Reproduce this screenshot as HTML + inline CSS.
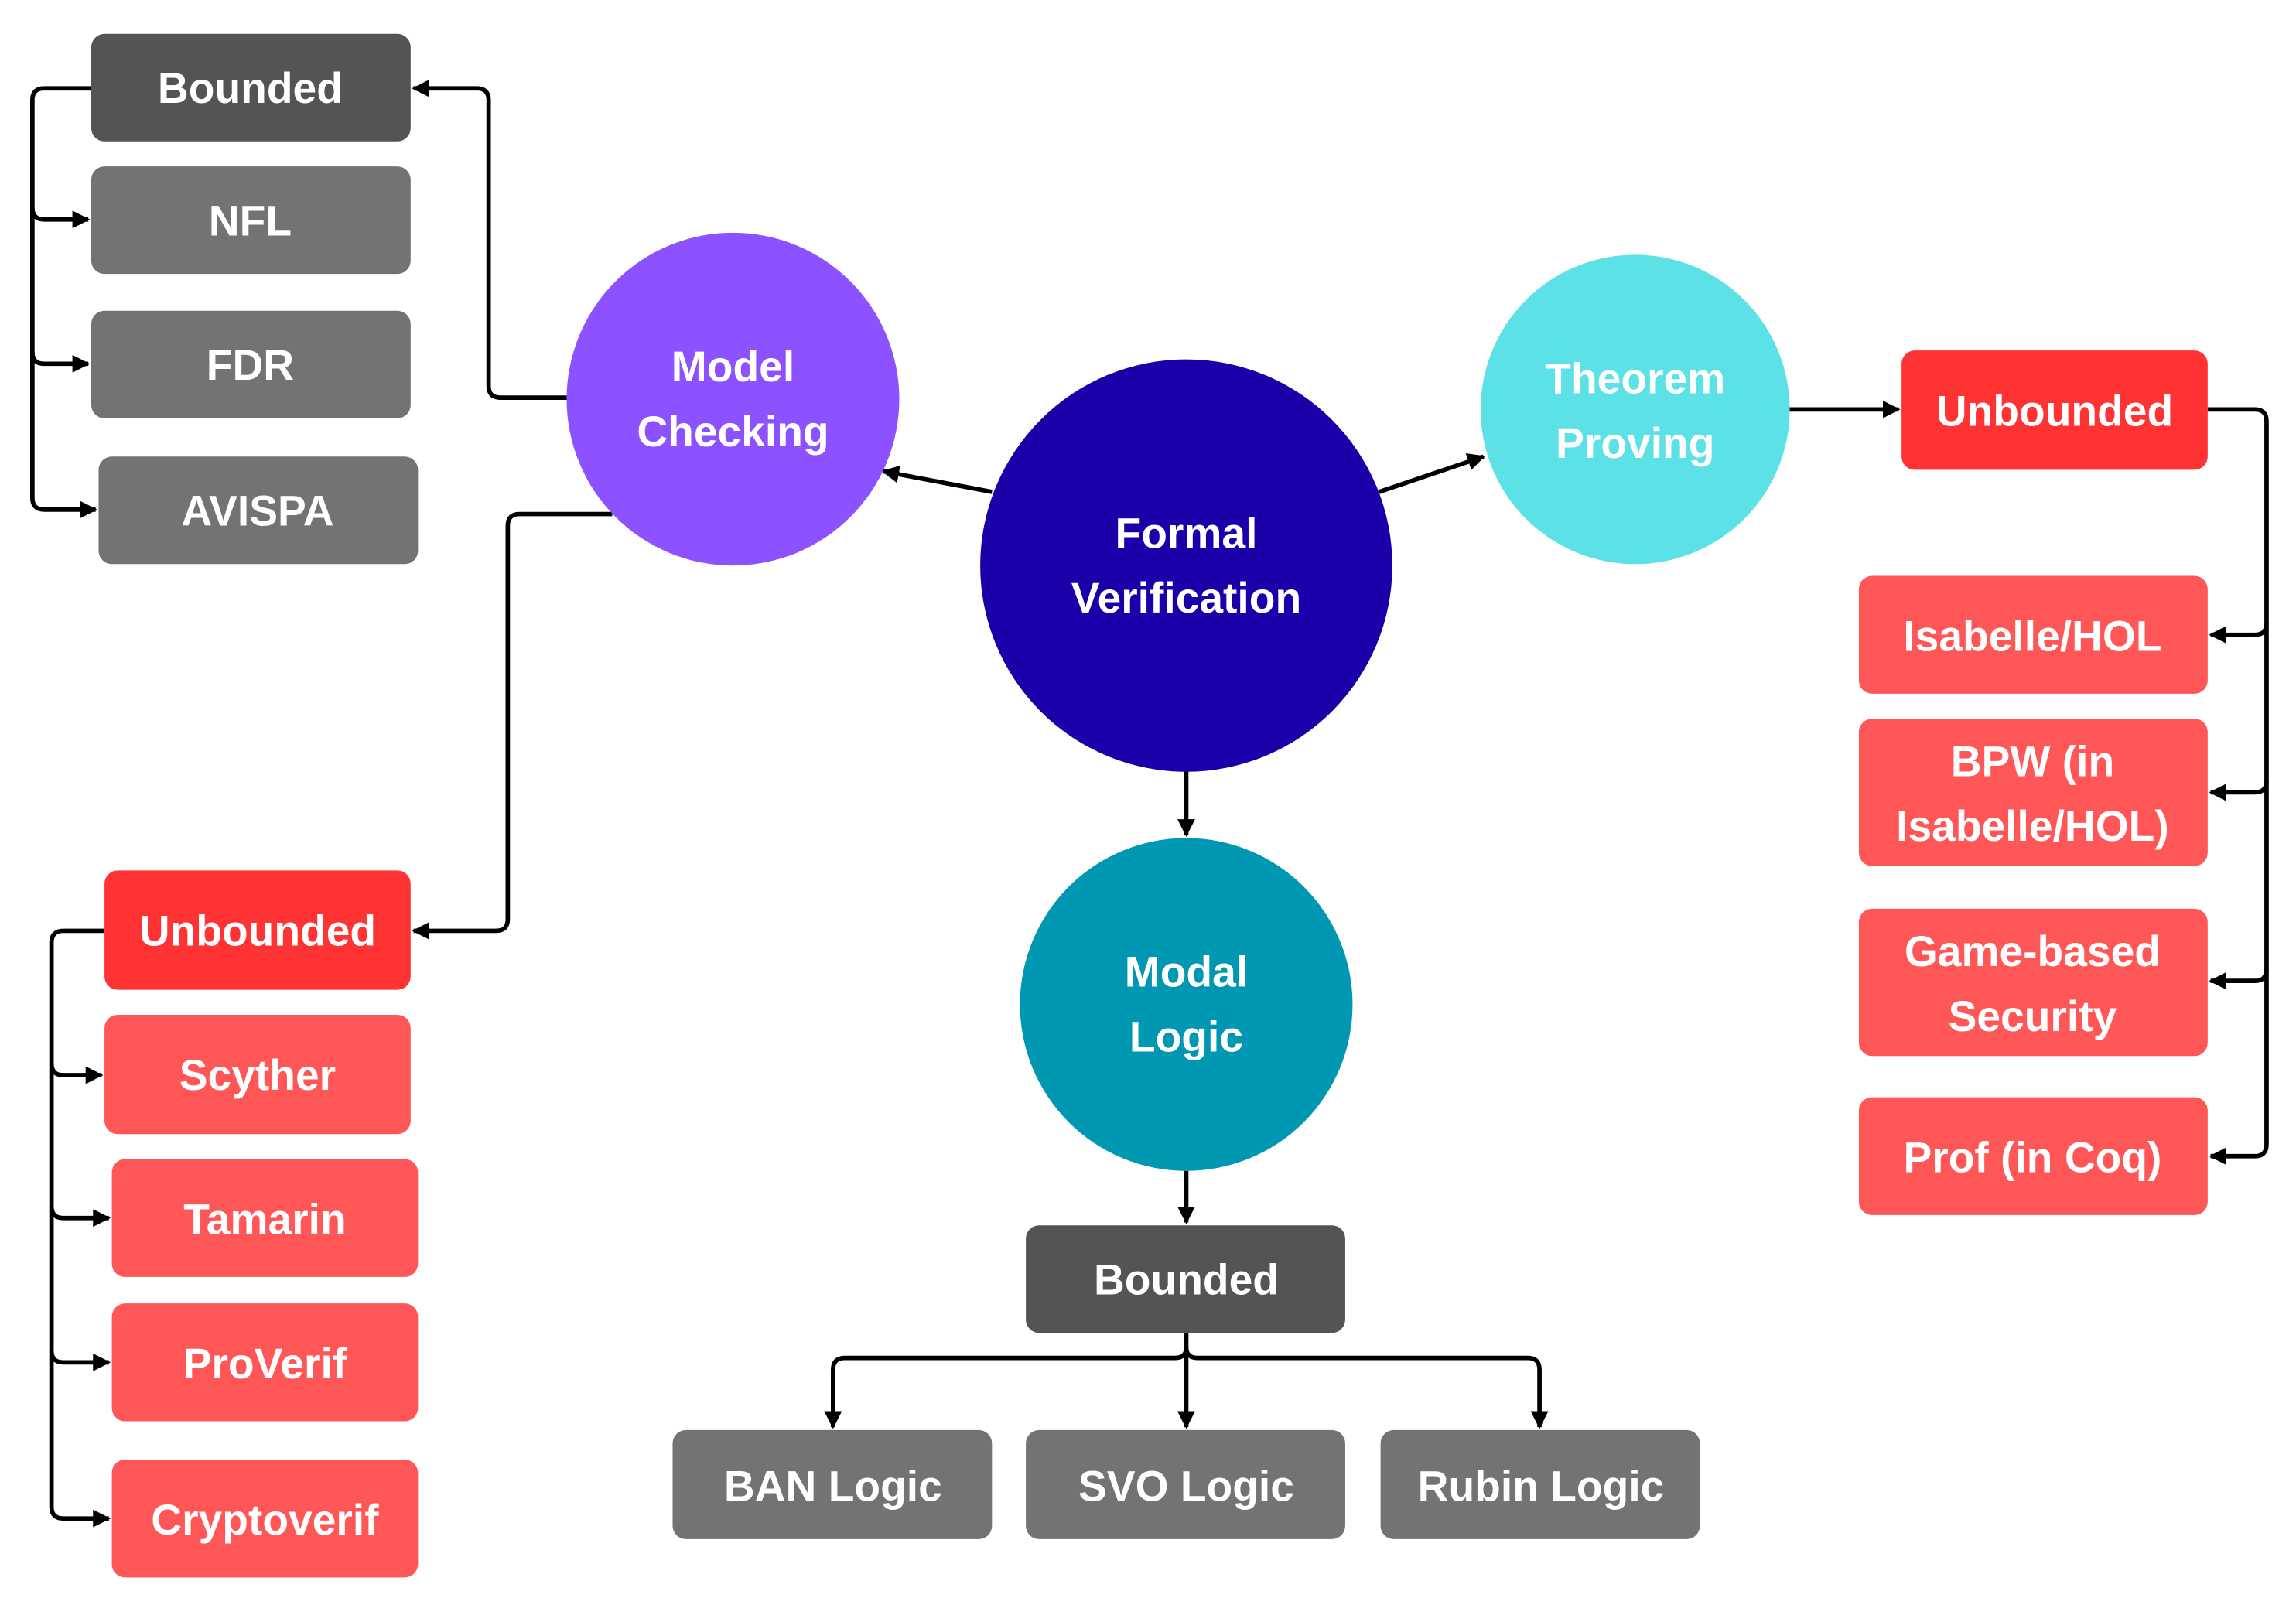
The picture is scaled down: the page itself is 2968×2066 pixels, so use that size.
<!DOCTYPE html>
<html><head><meta charset="utf-8"><style>
html,body{margin:0;padding:0;background:#fff;}
svg{display:block;}
text{font-family:"Liberation Sans",sans-serif;font-weight:bold;fill:#fff;font-size:29px;text-anchor:middle;dominant-baseline:central;}
</style></head><body>
<svg width="2968" height="2066" viewBox="0 0 1560 1085" preserveAspectRatio="none" xmlns="http://www.w3.org/2000/svg">
<defs>
<marker id="a" viewBox="0 0 10 10" refX="9" refY="5" markerWidth="4" markerHeight="4" orient="auto"><path d="M0,0 L10,5 L0,10 z" fill="#000"/></marker>
</defs>
<g fill="none" stroke="#000" stroke-width="3">
<!-- left top -->
<path d="M62,60 H30 Q22,60 22,68 V338 Q22,346 30,346 H65" marker-end="url(#a)"/>
<path d="M22,141 Q22,149 30,149 H60" marker-end="url(#a)"/>
<path d="M22,239 Q22,247 30,247 H60" marker-end="url(#a)"/>
<path d="M385,270 H340 Q332,270 332,262 V68 Q332,60 324,60 H281" marker-end="url(#a)"/>
<path d="M416,349 H353 Q345,349 345,357 V624 Q345,632 337,632 H281" marker-end="url(#a)"/>
<!-- left bottom -->
<path d="M71,632 H43 Q35,632 35,640 V1023 Q35,1031 43,1031 H74" marker-end="url(#a)"/>
<path d="M35,722 Q35,730 43,730 H69" marker-end="url(#a)"/>
<path d="M35,819 Q35,827 43,827 H74" marker-end="url(#a)"/>
<path d="M35,917 Q35,925 43,925 H74" marker-end="url(#a)"/>
<!-- center -->
<path d="M674,334 L600,320" marker-end="url(#a)"/>
<path d="M937,334 L1008,310" marker-end="url(#a)"/>
<path d="M1216,278 H1290" marker-end="url(#a)"/>
<path d="M806,523 V567" marker-end="url(#a)"/>
<path d="M806,795 V830" marker-end="url(#a)"/>
<path d="M806,905 V969" marker-end="url(#a)"/>
<path d="M806,915 Q806,922 798,922 H574 Q566,922 566,930 V969" marker-end="url(#a)"/>
<path d="M806,915 Q806,922 814,922 H1038 Q1046,922 1046,930 V969" marker-end="url(#a)"/>
<!-- right -->
<path d="M1500,278 H1532 Q1540,278 1540,286 V777 Q1540,785 1532,785 H1502" marker-end="url(#a)"/>
<path d="M1540,423 Q1540,431 1532,431 H1502" marker-end="url(#a)"/>
<path d="M1540,530 Q1540,538 1532,538 H1502" marker-end="url(#a)"/>
<path d="M1540,658 Q1540,666 1532,666 H1502" marker-end="url(#a)"/>
</g>
<!-- boxes -->
<rect x="62" y="23" width="217" height="73" rx="9" fill="#545454"/><text x="170" y="60">Bounded</text>
<rect x="62" y="113" width="217" height="73" rx="9" fill="#737373"/><text x="170" y="150">NFL</text>
<rect x="62" y="211" width="217" height="73" rx="9" fill="#737373"/><text x="170" y="248">FDR</text>
<rect x="67" y="310" width="217" height="73" rx="9" fill="#737373"/><text x="175" y="347">AVISPA</text>

<rect x="71" y="591" width="208" height="81" rx="9" fill="#ff3333"/><text x="175" y="632">Unbounded</text>
<rect x="71" y="689" width="208" height="81" rx="9" fill="#ff5757"/><text x="175" y="730">Scyther</text>
<rect x="76" y="787" width="208" height="80" rx="9" fill="#ff5757"/><text x="180" y="828">Tamarin</text>
<rect x="76" y="885" width="208" height="80" rx="9" fill="#ff5757"/><text x="180" y="926">ProVerif</text>
<rect x="76" y="991" width="208" height="80" rx="9" fill="#ff5757"/><text x="180" y="1032">Cryptoverif</text>

<rect x="1292" y="238" width="208" height="81" rx="9" fill="#ff3333"/><text x="1396" y="279">Unbounded</text>
<rect x="1263" y="391" width="237" height="80" rx="9" fill="#ff5757"/><text x="1381" y="432">Isabelle/HOL</text>
<rect x="1263" y="488" width="237" height="100" rx="9" fill="#ff5757"/><text x="1381" y="517">BPW (in</text><text x="1381" y="561">Isabelle/HOL)</text>
<rect x="1263" y="617" width="237" height="100" rx="9" fill="#ff5757"/><text x="1381" y="646">Game-based</text><text x="1381" y="690">Security</text>
<rect x="1263" y="745" width="237" height="80" rx="9" fill="#ff5757"/><text x="1381" y="786">Prof (in Coq)</text>

<rect x="697" y="832" width="217" height="73" rx="9" fill="#545454"/><text x="806" y="869">Bounded</text>
<rect x="457" y="971" width="217" height="74" rx="9" fill="#737373"/><text x="566" y="1009">BAN Logic</text>
<rect x="697" y="971" width="217" height="74" rx="9" fill="#737373"/><text x="806" y="1009">SVO Logic</text>
<rect x="938" y="971" width="217" height="74" rx="9" fill="#737373"/><text x="1047" y="1009">Rubin Logic</text>

<!-- circles -->
<ellipse cx="498" cy="271" rx="113" ry="113" fill="#8c52ff"/><text x="498" y="249">Model</text><text x="498" y="293">Checking</text>
<ellipse cx="806" cy="384" rx="140" ry="140" fill="#1a00a9"/><text x="806" y="362">Formal</text><text x="806" y="406">Verification</text>
<ellipse cx="1111" cy="278" rx="105" ry="105" fill="#5ce1e6"/><text x="1111" y="257">Theorem</text><text x="1111" y="301">Proving</text>
<ellipse cx="806" cy="682" rx="113" ry="113" fill="#0097b2"/><text x="806" y="660">Modal</text><text x="806" y="704">Logic</text>
</svg>
</body></html>
